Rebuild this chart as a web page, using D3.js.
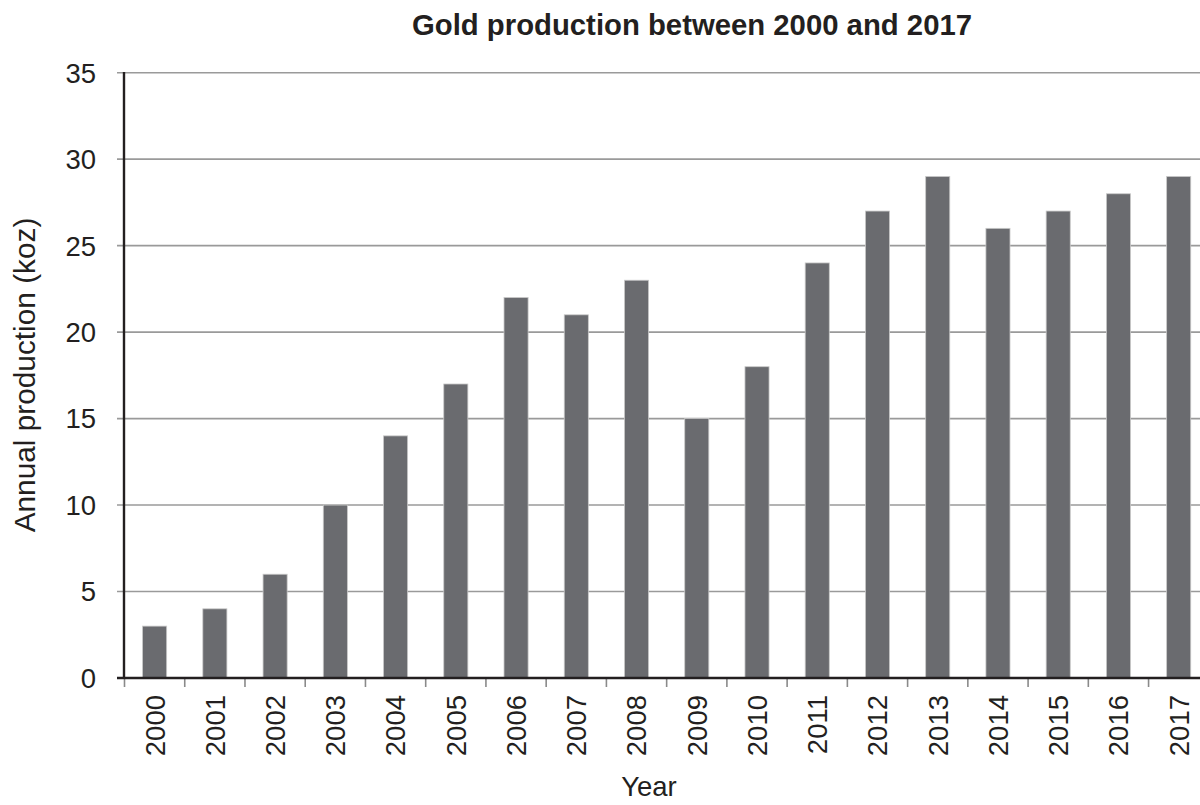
<!DOCTYPE html>
<html><head><meta charset="utf-8">
<script src="https://cdn.jsdelivr.net/npm/d3@7"></script>
<style>
html,body{margin:0;padding:0;background:#fff;overflow:hidden}
svg{display:block;font-family:"Liberation Sans",Arial,sans-serif}
</style></head>
<body>
<svg id="chart" width="1200" height="805"></svg>
<script>
const years = ["2000","2001","2002","2003","2004","2005","2006","2007","2008","2009","2010","2011","2012","2013","2014","2015","2016","2017"];
const production = [3,4,6,10,14,17,22,21,23,15,18,24,27,29,26,27,28,29];
const yTicks = [0,5,10,15,20,25,30,35];
const title = "Gold production between 2000 and 2017";
const yTitle = "Annual production (koz)";
const xTitle = "Year";

const svg = d3.select("#chart");
const x = d3.scaleBand().domain(years).range([124.5, 1208.8]).paddingInner(0.6).paddingOuter(0.3);
const y = d3.scaleLinear().domain([0,35]).range([678,72.7]);
const ink = "#231f20";

// gridlines
svg.append("g").selectAll("line").data(yTicks.filter(d=>d>0)).join("line")
  .attr("x1",117).attr("x2",1200)
  .attr("y1",d=>y(d)).attr("y2",d=>y(d))
  .attr("stroke","#9a9a9a").attr("stroke-width",1.6);

// bars
svg.append("g").selectAll("rect").data(years).join("rect")
  .attr("x",d=>x(d)).attr("width",x.bandwidth())
  .attr("y",(d,i)=>y(production[i]))
  .attr("height",(d,i)=>y(0)-y(production[i]))
  .attr("fill","#6a6b6f").attr("stroke","#c9c9c9").attr("stroke-width",0.8);

// y labels
svg.append("g").selectAll("text").data(yTicks).join("text")
  .attr("x",96).attr("y",d=>y(d)).attr("dy","0.36em")
  .attr("text-anchor","end").attr("font-size",27.5).attr("fill",ink)
  .text(d=>d);
svg.append("line").attr("x1",117).attr("x2",124).attr("y1",y(0)).attr("y2",y(0))
  .attr("stroke","#9a9a9a").attr("stroke-width",1.6);

// x ticks (between bands)
const step = x.step();
const boundaries = years.map(d=>x(d)+x.bandwidth()/2 - step/2);
svg.append("g").selectAll("line").data(boundaries).join("line")
  .attr("x1",d=>d).attr("x2",d=>d).attr("y1",678).attr("y2",687)
  .attr("stroke","#8a8a8a").attr("stroke-width",1.6);

// axes lines
svg.append("line").attr("x1",124).attr("x2",124).attr("y1",72).attr("y2",679)
  .attr("stroke",ink).attr("stroke-width",2.4);
svg.append("line").attr("x1",117).attr("x2",1200).attr("y1",678).attr("y2",678)
  .attr("stroke",ink).attr("stroke-width",2.4);

// x labels
svg.append("g").selectAll("text").data(years).join("text")
  .attr("transform",d=>`translate(${x(d)+x.bandwidth()/2},695) rotate(-90)`)
  .attr("dy","0.36em").attr("text-anchor","end")
  .attr("font-size",27.5).attr("fill",ink).text(d=>d);

// titles
svg.append("text").attr("x",692).attr("y",35).attr("text-anchor","middle")
  .attr("font-size",29.3).attr("font-weight","bold").attr("fill",ink).text(title);
svg.append("text").attr("transform","translate(35,375) rotate(-90)")
  .attr("text-anchor","middle").attr("font-size",29.8).attr("fill",ink).text(yTitle);
svg.append("text").attr("x",649).attr("y",796).attr("text-anchor","middle")
  .attr("font-size",27.5).attr("fill",ink).text(xTitle);
</script>
</body></html>
